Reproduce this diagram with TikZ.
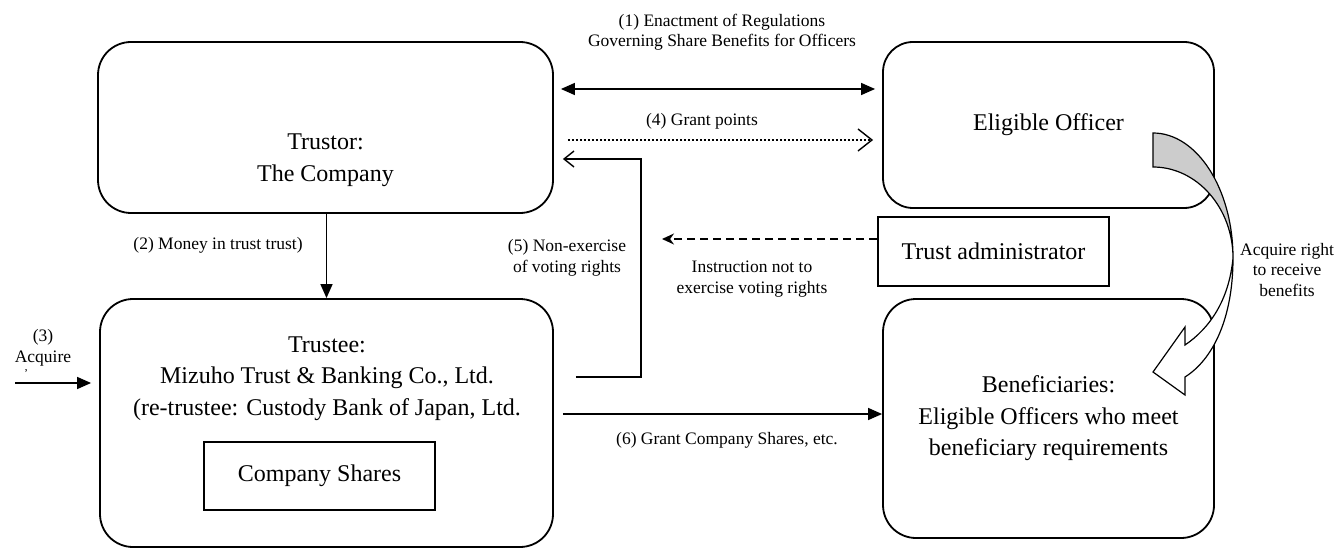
\documentclass[tikz,border=0pt]{standalone}
\usepackage{fontspec}
\setmainfont{Liberation Serif}
\usetikzlibrary{arrows.meta,calc}
\begin{document}
\begin{tikzpicture}[x=1pt,y=-1pt,
  rbox/.style={draw, line width=1.8pt, rounded corners=33pt, inner sep=0pt},
  sbox/.style={draw, line width=2pt, inner sep=0pt},
  big/.style={font=\fontsize{24}{31.5}\selectfont, align=center},
  small/.style={font=\fontsize{17.5}{20.5}\selectfont, align=center},
  conn/.style={line width=1.4pt},
  tri/.style={-{Triangle[length=14pt,width=12pt]}},
  curved/.style={draw, line width=1.2pt}
]
\useasboundingbox (0,0) rectangle (1340,548);

% boxes
\node[rbox, minimum width=455pt, minimum height=171pt] (trustor) at (325.5,127.5) {};
\node[big] (trustorlbl) at (325.5,160) {Trustor:\\The Company};
\node[rbox, rounded corners=30pt, minimum width=331pt, minimum height=166pt, big] (officer) at (1048.5,125) {Eligible Officer};
\node[sbox, minimum width=231pt, minimum height=69pt, big] (admin) at (993.5,251.5) {Trust administrator};
\node[rbox, minimum width=331pt, minimum height=239pt, big] (benef) at (1048.5,418.5) {Beneficiaries:\\Eligible Officers who meet\\beneficiary requirements};
\node[rbox, minimum width=453pt, minimum height=248pt] (trustee) at (326.5,423) {};
\node[big] (trusteelbl) at (327,378.5) {Trustee:\\Mizuho Trust \& Banking Co., Ltd.\\(re-trustee: Custody Bank of Japan, Ltd.};
\node[sbox, minimum width=231pt, minimum height=68pt, big] (shares) at (319.5,476) {Company Shares};

% helper coordinates
\coordinate (y1) at (0,89);
\coordinate (y4) at (0,140);
\coordinate (y5) at (0,377);
\coordinate (c5) at (641,159);
\coordinate (ydash) at (0,239);
\coordinate (dashend) at (662,239);
\coordinate (y6) at (0,414);
\coordinate (src3) at (15,383);

% connectors
\draw[conn, {Triangle[length=14pt,width=12pt]}-{Triangle[length=14pt,width=12pt]}, shorten <=7pt, shorten >=7pt]
  (trustor.east |- y1) -- (officer.west |- y1);
\draw[conn, dash pattern=on 2pt off 2pt, -{Straight Barb[length=14pt,width=22pt]}, shorten <=14pt, shorten >=9pt]
  (trustor.east |- y4) -- (officer.west |- y4);
\draw[conn, -{Straight Barb[length=10pt,width=16pt]}, shorten <=22pt, shorten >=9pt]
  (trustee.east |- y5) -| (c5) -- (trustor.east |- c5);
\draw[conn, dash pattern=on 8pt off 5pt, -{Stealth[length=12pt,width=11pt]}]
  (admin.west |- ydash) -- (dashend);
\draw[conn, tri, shorten <=9pt] (trustee.east |- y6) -- (benef.west |- y6);
\draw[conn, tri] (trustee.north |- trustor.south) -- (trustee.north);
\draw[conn, tri, shorten >=8pt] (src3) -- (trustee.west |- src3);

% labels
\node[small] (l1) at (722,32) {(1) Enactment of Regulations\\Governing Share Benefits for Officers};
\node[small] (l4) at (702,121) {(4) Grant points};
\node[small] (l2) at (218,245) {(2) Money in trust trust)};
\node[small] (l5) at (567,258) {(5) Non-exercise\\of voting rights};
\node[small] (linst) at (752,279) {Instruction not to\\exercise voting rights};
\node[small] (l6) at (727,440) {(6) Grant Company Shares, etc.};
\node[small] (lacq) at (1287,270) {Acquire right\\to receive\\benefits};
\node[small] (l3) at (43,348) {(3)\\Acquire};
\node[font=\fontsize{12}{12}\selectfont, inner sep=0pt] (tick) at (26,374) {'};

% curved arrow
\path[curved, fill=black!20] (1153,133) .. controls (1197,133) and (1233,189) .. (1233,258)
  .. controls (1233,208) and (1197,167) .. (1153,167) -- cycle;
\path[curved, fill=white] (1233,258) .. controls (1233,320) and (1212,360) .. (1185,377)
  -- (1185,395) -- (1153,372) -- (1185,327) -- (1185,345)
  .. controls (1210,328) and (1229,300) .. (1233,258) -- cycle;
\end{tikzpicture}
\end{document}
